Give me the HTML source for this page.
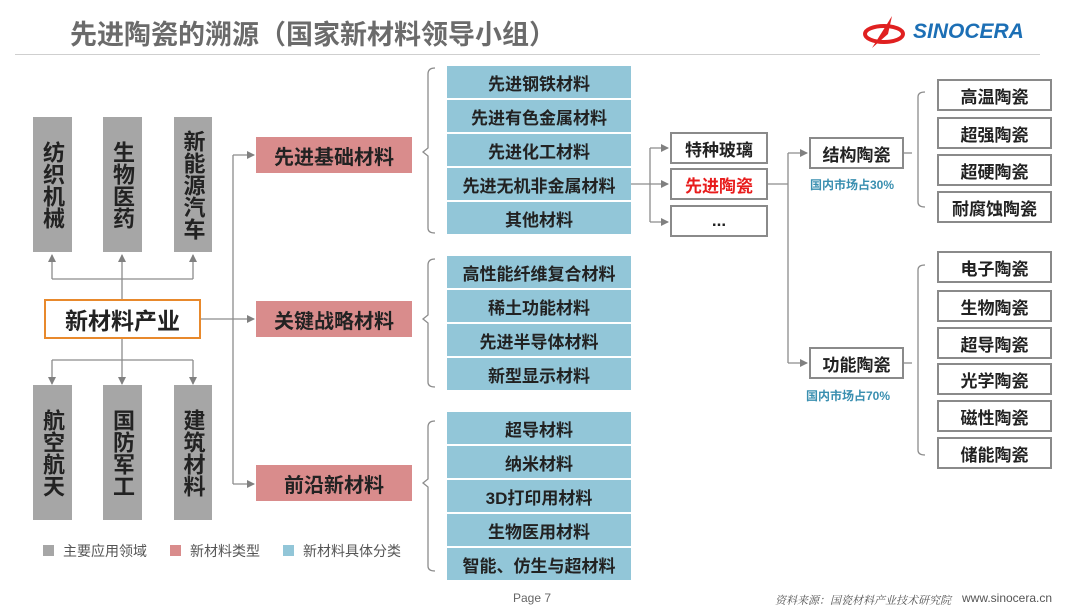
<!DOCTYPE html>
<html><head><meta charset="utf-8"><style>
*{margin:0;padding:0;box-sizing:border-box}
body{width:1080px;height:609px;background:#fff;position:relative;overflow:hidden;font-family:"Liberation Sans","Noto Sans CJK SC",sans-serif}
.a{position:absolute;display:flex;align-items:center;justify-content:center;font-weight:bold;color:#222}
.g{background:#a6a6a6;font-size:22px;line-height:25px;writing-mode:vertical-rl;text-orientation:upright;letter-spacing:0px}
.p{background:#d98c8c;font-size:20px}
.b{background:#92c6d8;font-size:17px}
.w{border:2px solid #8a8a8a;background:#fff;font-size:18px}
.t{position:absolute;white-space:nowrap}
</style></head><body>
<div class="t" style="left:70px;top:13px;font-size:27px;font-weight:bold;color:#6b6b6b">先进陶瓷的溯源（国家新材料领导小组）</div>
<div style="position:absolute;left:15px;top:54px;width:1025px;height:1px;background:#cfcfcf"></div>
<svg style="position:absolute;left:862px;top:14px" width="50" height="36"><ellipse cx="22" cy="20" rx="19" ry="8" fill="none" stroke="#e02020" stroke-width="4"/><path d="M10 34 L30 2 L26 20 Z" fill="#e02020"/></svg>
<div class="t" style="left:913px;top:20px;font-size:21px;font-weight:bold;font-style:italic;color:#1c6fb5">SINOCERA</div>

<svg style="position:absolute;left:0;top:0" width="1080" height="609">
<defs><marker id="m" markerWidth="8" markerHeight="8" refX="7" refY="4" orient="auto" markerUnits="userSpaceOnUse"><path d="M0,0 L8,4 L0,8z" fill="#808080"/></marker></defs>
<g stroke="#8c8c8c" stroke-width="1.3" fill="none">
<path d="M122 299 V255"  marker-end="url(#m)"/>
<path d="M52 279 H193"/><path d="M52 279 V255" marker-end="url(#m)"/><path d="M193 279 V255" marker-end="url(#m)"/>
<path d="M122 339 V384" marker-end="url(#m)"/>
<path d="M52 360 H193"/><path d="M52 360 V384" marker-end="url(#m)"/><path d="M193 360 V384" marker-end="url(#m)"/>
<path d="M201 319 H254" marker-end="url(#m)"/>
<path d="M233 155 V484"/><path d="M233 155 H254" marker-end="url(#m)"/><path d="M233 484 H254" marker-end="url(#m)"/>
<path d="M435 68 Q428 68 428 74 V148 L423 152 L428 156 V228 Q428 233 435 233"/>
<path d="M435 259 Q428 259 428 265 V315 L423 319 L428 323 V382 Q428 387 435 387"/>
<path d="M435 421 Q428 421 428 427 V479 L423 483 L428 487 V566 Q428 571 435 571"/>
<path d="M631 184 H650"/><path d="M650 148 V222"/>
<path d="M650 148 H668" marker-end="url(#m)"/><path d="M650 184 H668" marker-end="url(#m)"/><path d="M650 222 H668" marker-end="url(#m)"/>
<path d="M768 184 H788"/><path d="M788 153 V363"/>
<path d="M788 153 H807" marker-end="url(#m)"/><path d="M788 363 H807" marker-end="url(#m)"/>
<path d="M904 153 H912"/><path d="M925 92 Q918 92 918 97 V202 Q918 207 925 207"/>
<path d="M904 363 H912"/><path d="M925 265 Q918 265 918 270 V450 Q918 455 925 455"/>
</g></svg>

<div class="a g" style="left:33px;top:117px;width:39px;height:135px">纺织机械</div>
<div class="a g" style="left:103px;top:117px;width:39px;height:135px">生物医药</div>
<div class="a g" style="left:174px;top:117px;width:38px;height:135px">新能源汽车</div>
<div class="a g" style="left:33px;top:385px;width:39px;height:135px">航空航天</div>
<div class="a g" style="left:103px;top:385px;width:39px;height:135px">国防军工</div>
<div class="a g" style="left:174px;top:385px;width:38px;height:135px">建筑材料</div>
<div class="a" style="left:44px;top:299px;width:157px;height:40px;border:2px solid #e8892c;font-size:23px">新材料产业</div>

<div class="a p" style="left:256px;top:137px;width:156px;height:36px">先进基础材料</div>
<div class="a p" style="left:256px;top:301px;width:156px;height:36px">关键战略材料</div>
<div class="a p" style="left:256px;top:465px;width:156px;height:36px">前沿新材料</div>

<div class="a b" style="left:447px;top:66px;width:184px;height:32px">先进钢铁材料</div>
<div class="a b" style="left:447px;top:100px;width:184px;height:32px">先进有色金属材料</div>
<div class="a b" style="left:447px;top:134px;width:184px;height:32px">先进化工材料</div>
<div class="a b" style="left:447px;top:168px;width:184px;height:32px">先进无机非金属材料</div>
<div class="a b" style="left:447px;top:202px;width:184px;height:32px">其他材料</div>
<div class="a b" style="left:447px;top:256px;width:184px;height:32px">高性能纤维复合材料</div>
<div class="a b" style="left:447px;top:290px;width:184px;height:32px">稀土功能材料</div>
<div class="a b" style="left:447px;top:324px;width:184px;height:32px">先进半导体材料</div>
<div class="a b" style="left:447px;top:358px;width:184px;height:32px">新型显示材料</div>
<div class="a b" style="left:447px;top:412px;width:184px;height:32px">超导材料</div>
<div class="a b" style="left:447px;top:446px;width:184px;height:32px">纳米材料</div>
<div class="a b" style="left:447px;top:480px;width:184px;height:32px">3D打印用材料</div>
<div class="a b" style="left:447px;top:514px;width:184px;height:32px">生物医用材料</div>
<div class="a b" style="left:447px;top:548px;width:184px;height:32px">智能、仿生与超材料</div>

<div class="a w" style="left:670px;top:132px;width:98px;height:32px;font-size:17px">特种玻璃</div>
<div class="a w" style="left:670px;top:168px;width:98px;height:32px;font-size:17px;color:#e81c1c">先进陶瓷</div>
<div class="a w" style="left:670px;top:205px;width:98px;height:32px;font-size:17px">...</div>

<div class="a w" style="left:809px;top:137px;width:95px;height:32px;font-size:17px">结构陶瓷</div>
<div class="t" style="left:810px;top:176px;font-size:12px;font-weight:bold;color:#3a8fb0">国内市场占30%</div>
<div class="a w" style="left:809px;top:347px;width:95px;height:32px;font-size:17px">功能陶瓷</div>
<div class="t" style="left:806px;top:387px;font-size:12px;font-weight:bold;color:#3a8fb0">国内市场占70%</div>

<div class="a w" style="left:937px;top:79px;width:115px;height:32px;font-size:17px">高温陶瓷</div>
<div class="a w" style="left:937px;top:117px;width:115px;height:32px;font-size:17px">超强陶瓷</div>
<div class="a w" style="left:937px;top:154px;width:115px;height:32px;font-size:17px">超硬陶瓷</div>
<div class="a w" style="left:937px;top:191px;width:115px;height:32px;font-size:17px">耐腐蚀陶瓷</div>
<div class="a w" style="left:937px;top:251px;width:115px;height:32px;font-size:17px">电子陶瓷</div>
<div class="a w" style="left:937px;top:290px;width:115px;height:32px;font-size:17px">生物陶瓷</div>
<div class="a w" style="left:937px;top:327px;width:115px;height:32px;font-size:17px">超导陶瓷</div>
<div class="a w" style="left:937px;top:363px;width:115px;height:32px;font-size:17px">光学陶瓷</div>
<div class="a w" style="left:937px;top:400px;width:115px;height:32px;font-size:17px">磁性陶瓷</div>
<div class="a w" style="left:937px;top:437px;width:115px;height:32px;font-size:17px">储能陶瓷</div>

<div style="position:absolute;left:43px;top:545px;width:11px;height:11px;background:#a6a6a6"></div>
<div class="t" style="left:63px;top:541px;font-size:14px;color:#555">主要应用领域</div>
<div style="position:absolute;left:170px;top:545px;width:11px;height:11px;background:#d98c8c"></div>
<div class="t" style="left:190px;top:541px;font-size:14px;color:#555">新材料类型</div>
<div style="position:absolute;left:283px;top:545px;width:11px;height:11px;background:#92c6d8"></div>
<div class="t" style="left:303px;top:541px;font-size:14px;color:#555">新材料具体分类</div>

<div class="t" style="left:513px;top:591px;font-size:12px;color:#666">Page 7</div>
<div class="t" style="left:775px;top:592px;font-size:11px;font-style:italic;color:#555;font-family:'Noto Serif CJK SC',serif">资料来源：国瓷材料产业技术研究院</div>
<div class="t" style="left:962px;top:591px;font-size:12px;color:#555">www.sinocera.cn</div>
</body></html>
